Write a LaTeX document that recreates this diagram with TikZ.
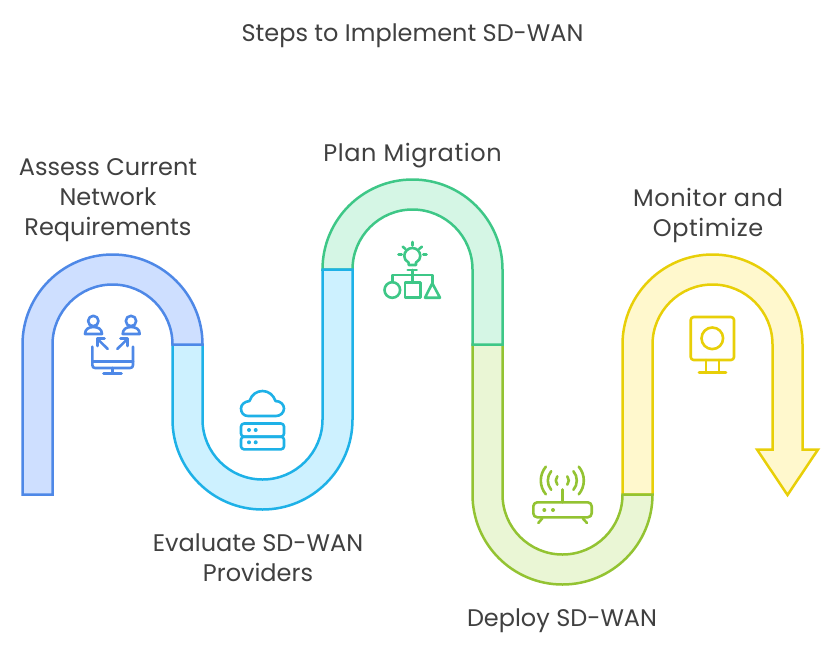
\documentclass[tikz,border=0pt]{standalone}
\usepackage{fontspec}
\setmainfont{Poppins}
\definecolor{bS}{HTML}{4E88E7}\definecolor{bF}{HTML}{CEDFFF}
\definecolor{cS}{HTML}{1EB1E7}\definecolor{cF}{HTML}{CDF1FF}
\definecolor{gS}{HTML}{3EC787}\definecolor{gF}{HTML}{D5F6E5}
\definecolor{lS}{HTML}{93C332}\definecolor{lF}{HTML}{EAF6D5}
\definecolor{yS}{HTML}{E8CF08}\definecolor{yF}{HTML}{FFF8CD}
\definecolor{txt}{HTML}{404040}
\tikzset{
  band/.style={line width=2.5pt,line join=miter},
  icon/.style={line width=2.6pt,line cap=round,line join=round},
  lbl/.style={text=txt,align=center,font=\fontsize{24}{30}\selectfont,inner sep=0pt},
  lblwide/.style={lbl,font=\fontsize{24}{30}\selectfont\addfontfeature{LetterSpace=2.5}},
}
\begin{document}
\begin{tikzpicture}[x=1pt,y=-1pt]
\useasboundingbox (0,0) rectangle (834,645);
\fill[white] (0,0) rectangle (834,645);
% bands, last one first so that each joint shows the earlier colour
\filldraw[band,draw=yS,fill=yF] (622.5,494.5) -- (622.5,344.5) arc[start angle=180,end angle=360,radius=90] -- (802.5,449.5) -- (818,449.5) -- (787.5,495) -- (757,449.5) -- (772.5,449.5) -- (772.5,344.5) arc[start angle=360,end angle=180,radius=60] -- (652.5,494.5) -- cycle;
\filldraw[band,draw=lS,fill=lF] (472.5,344.5) -- (472.5,494.5) arc[start angle=180,end angle=0,radius=90] -- (622.5,494.5) arc[start angle=0,end angle=180,radius=60] -- (502.5,344.5) -- cycle;
\filldraw[band,draw=gS,fill=gF] (322.5,269.5) arc[start angle=180,end angle=360,radius=90] -- (502.5,344.5) -- (472.5,344.5) -- (472.5,269.5) arc[start angle=360,end angle=180,radius=60] -- cycle;
\filldraw[band,draw=cS,fill=cF] (172.5,344.5) -- (172.5,419.5) arc[start angle=180,end angle=0,radius=90] -- (352.5,269.5) -- (322.5,269.5) -- (322.5,419.5) arc[start angle=0,end angle=180,radius=60] -- (202.5,344.5) -- cycle;
\filldraw[band,draw=bS,fill=bF] (22.5,494.5) -- (22.5,344.5) arc[start angle=180,end angle=360,radius=90] -- (172.5,344.5) arc[start angle=360,end angle=180,radius=60] -- (52.5,494.5) -- cycle;
% icon 1
\begin{scope}[icon,draw=bS]
\draw (93.3,321) circle[radius=5.2];
\draw (131,321) circle[radius=5.2];
\draw (85,334) .. controls (85,329) and (89,327) .. (93.3,327) .. controls (98,327) and (102,329) .. (102,334) -- cycle;
\draw (122.7,334) .. controls (122.7,329) and (126.7,327) .. (131,327) .. controls (135.7,327) and (139.7,329) .. (139.7,334) -- cycle;
\draw (92.3,346.7) -- (92.3,365) .. controls (92.3,367) and (93.3,368) .. (95.3,368) -- (130,368) .. controls (132,368) and (133,367) .. (133,365) -- (133,346.7);
\draw (92.3,361.5) -- (133,361.5);
\draw (112.7,368) -- (112.7,373.5);
\draw (103.5,373.5) -- (121.5,373.5);
\draw (107.7,349) -- (97.3,338.7);
\draw (97.3,346) -- (97.3,338.7) -- (104.5,338.7);
\draw (117.3,349) -- (127.7,338.7);
\draw (120.5,338.7) -- (127.7,338.7) -- (127.7,346);
\end{scope}
% icon 2
\begin{scope}[icon,draw=cS]
\draw (248,416) .. controls (243.5,416) and (241,412.5) .. (241,408.5) .. controls (241,404.5) and (244.5,401.5) .. (249.5,401) .. controls (251.5,394.5) and (257,391) .. (262.5,391) .. controls (268.5,391) and (273.5,395) .. (275.5,401) .. controls (280.5,401) and (284,404.5) .. (284,408.5) .. controls (284,412.5) and (280.5,416) .. (276,416) -- cycle;
\draw[rounded corners=3pt] (241,423.5) rectangle (284,436.7);
\draw[rounded corners=3pt] (241,436.7) rectangle (284,449.3);
\fill[cS] (249,430) circle[radius=2] (255.7,430) circle[radius=2] (249,442.3) circle[radius=2] (255.7,442.3) circle[radius=2];
\end{scope}
% icon 3
\begin{scope}[icon,draw=gS]
\draw (408.7,265) -- (408.5,262.5) .. controls (405.5,261) and (404.3,258.5) .. (404.3,256) .. controls (404.3,251.5) and (408,248) .. (412.3,248) .. controls (416.7,248) and (420.3,251.5) .. (420.3,256) .. controls (420.3,258.5) and (419,261) .. (416,262.5) -- (416,265) -- cycle;
\draw (407.7,270) -- (416.7,270);
\draw (412.3,270) -- (412.3,282.7);
\draw (392.3,282) -- (392.3,275) -- (432.3,275) -- (432.3,283.3);
\draw (392.3,290) circle[radius=7.8];
\draw (405,282.7) rectangle (420.3,297.7);
\draw (432.3,283.3) -- (440,297.7) -- (425,297.7) -- cycle;
\draw (412.3,242) -- (412.3,245.5);
\draw (402.7,246.7) -- (405.5,249);
\draw (421.9,246.7) -- (419.1,249);
\draw (398.5,254.7) -- (401.7,254.7);
\draw (423.3,254.7) -- (426.5,254.7);
\end{scope}
% icon 4
\begin{scope}[icon,draw=lS]
\draw[rounded corners=4pt] (533.3,502.3) rectangle (591.7,517.3);
\fill[lS] (544.3,510) circle[radius=2] (553,510) circle[radius=2];
\draw (542.3,518.3) -- (538.3,523);
\draw (582.7,518.3) -- (587,523);
\draw (562.3,489.5) -- (562.3,502.3);
\draw (562.3,480.5) ++(140:21.5) arc[start angle=140,end angle=220,radius=21.5];
\draw (562.3,480.5) ++(40:21.5) arc[start angle=40,end angle=-40,radius=21.5];
\draw (562.3,480.5) ++(140:14.5) arc[start angle=140,end angle=220,radius=14.5];
\draw (562.3,480.5) ++(40:14.5) arc[start angle=40,end angle=-40,radius=14.5];
\draw (562.3,480.5) ++(140:6.5) arc[start angle=140,end angle=220,radius=6.5];
\draw (562.3,480.5) ++(40:6.5) arc[start angle=40,end angle=-40,radius=6.5];
\end{scope}
% icon 5
\begin{scope}[icon,draw=yS]
\draw[rounded corners=3pt] (690.7,317) rectangle (734,360);
\draw (712.3,338.3) circle[radius=10.8];
\draw (706,360) -- (706,372.7);
\draw (719,360) -- (719,372.7);
\draw (699,372.7) -- (726,372.7);
\end{scope}
% labels
\node[lbl] (title) at (412.5,35.5) {Steps to Implement SD-WAN};
\node[lbl] (assess) at (108,200.5) {Assess Current\\Network\\Requirements};
\node[lblwide] (plan) at (412.5,156) {Plan Migration};
\node[lbl] (eval) at (258,558) {Evaluate SD-WAN\\Providers};
\node[lbl] (deploy) at (562,621) {Deploy SD-WAN};
\node[lblwide] (monitor) at (708,215) {Monitor and\\Optimize};
\end{tikzpicture}
\end{document}
